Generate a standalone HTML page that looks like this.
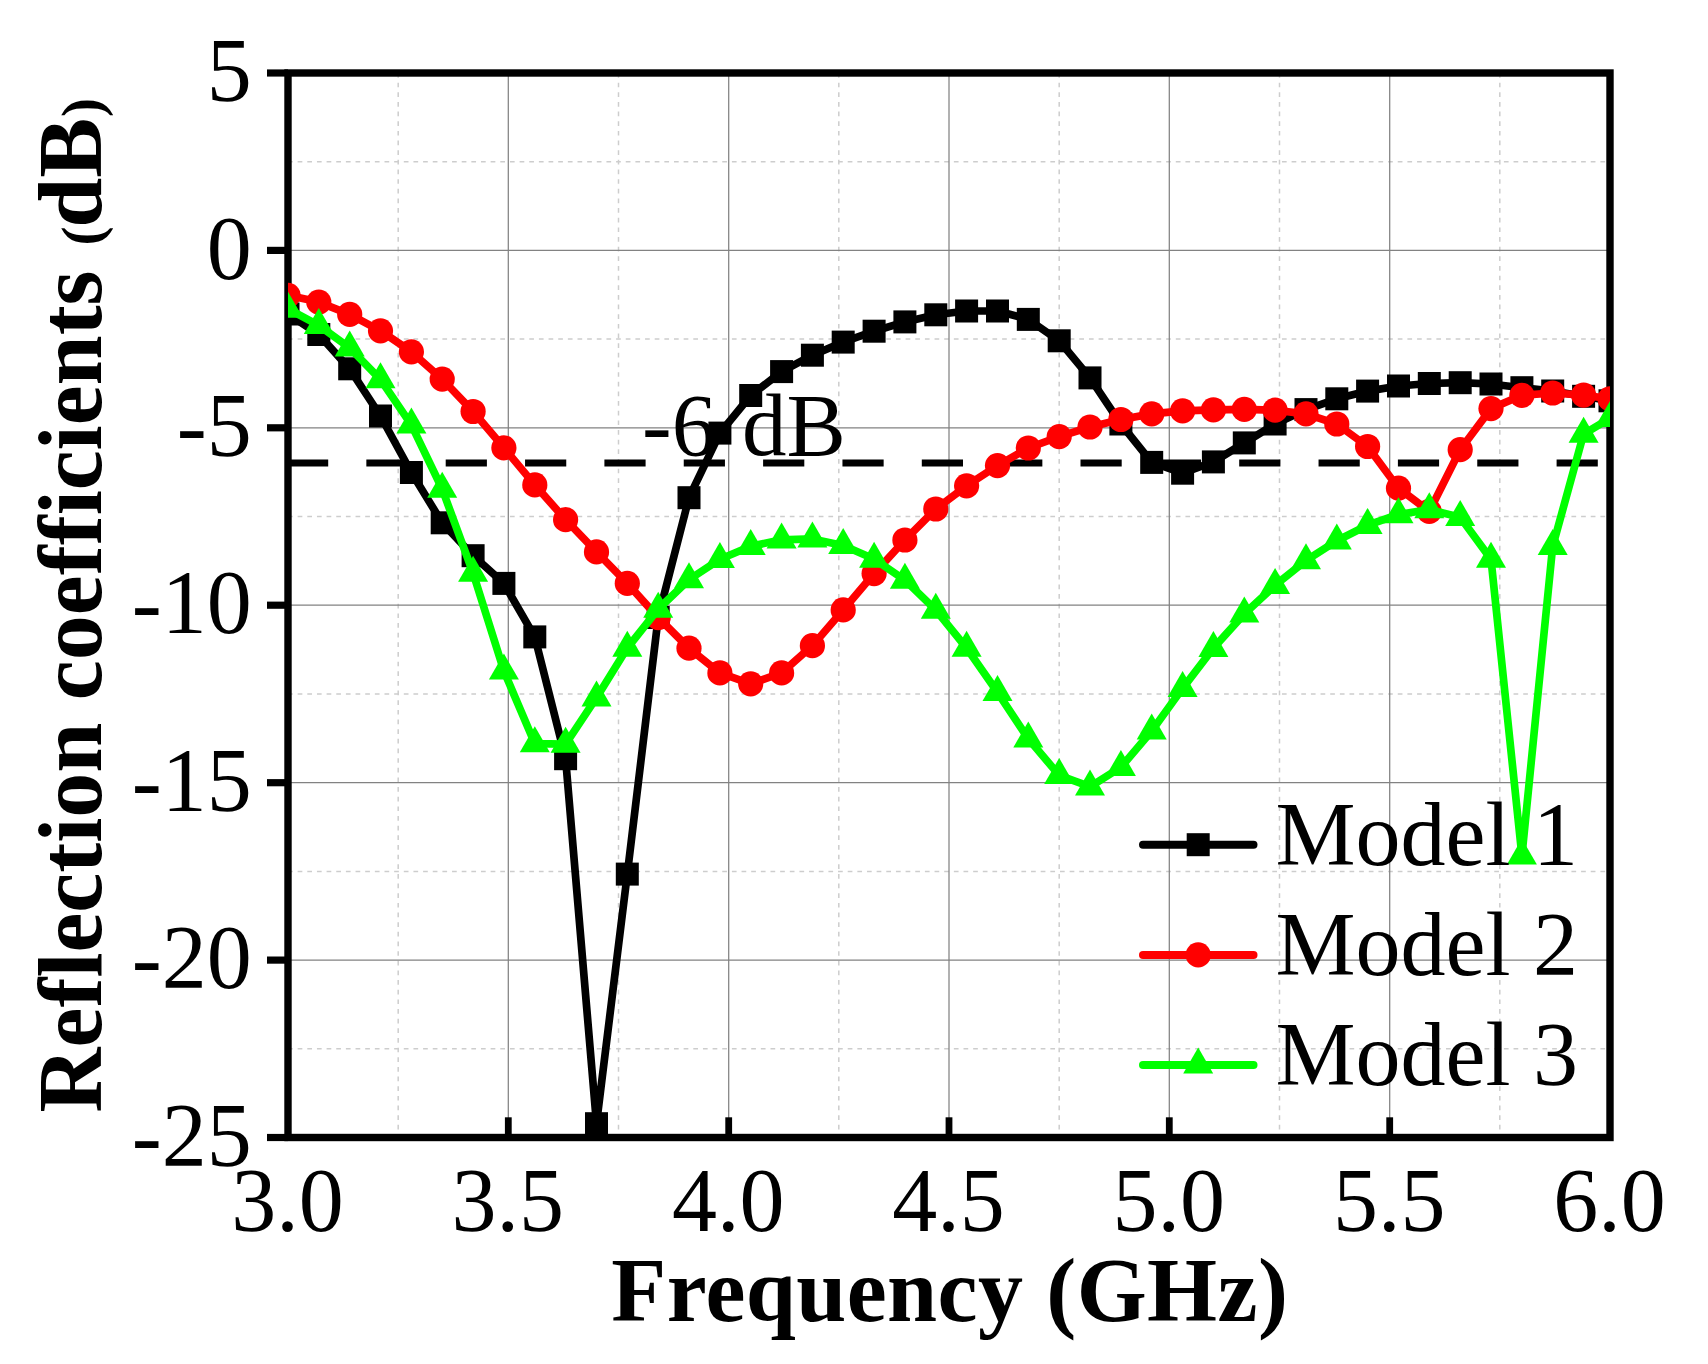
<!DOCTYPE html>
<html lang="en"><head><meta charset="utf-8"><title>Reflection coefficients</title>
<style>
html,body{margin:0;padding:0;background:#fff;}
body{width:1708px;height:1364px;overflow:hidden;}
svg{display:block;}
text{font-family:"Liberation Serif","Noto Serif CJK SC",serif;fill:#000;}
.tk{font-size:90px;}
.lb{font-size:90px;font-weight:bold;}
</style></head><body>
<svg width="1708" height="1364" viewBox="0 0 1708 1364">
<rect width="1708" height="1364" fill="#fff"/>
<defs><clipPath id="cp"><rect x="288" y="73" width="1322" height="1064.5"/></clipPath></defs>

<g stroke="#cdcdcd" stroke-width="1.5" stroke-dasharray="4.7 4.95" fill="none">
<line x1="398.2" y1="73" x2="398.2" y2="1137.5"/>
<line x1="618.5" y1="73" x2="618.5" y2="1137.5"/>
<line x1="838.8" y1="73" x2="838.8" y2="1137.5"/>
<line x1="1059.2" y1="73" x2="1059.2" y2="1137.5"/>
<line x1="1279.5" y1="73" x2="1279.5" y2="1137.5"/>
<line x1="1499.8" y1="73" x2="1499.8" y2="1137.5"/>
<line x1="288" y1="161.7" x2="1610" y2="161.7"/>
<line x1="288" y1="339.1" x2="1610" y2="339.1"/>
<line x1="288" y1="516.5" x2="1610" y2="516.5"/>
<line x1="288" y1="694.0" x2="1610" y2="694.0"/>
<line x1="288" y1="871.4" x2="1610" y2="871.4"/>
<line x1="288" y1="1048.8" x2="1610" y2="1048.8"/>
</g>
<g stroke="#828282" stroke-width="1.25" fill="none">
<line x1="508.3" y1="73" x2="508.3" y2="1137.5"/>
<line x1="728.7" y1="73" x2="728.7" y2="1137.5"/>
<line x1="949.0" y1="73" x2="949.0" y2="1137.5"/>
<line x1="1169.3" y1="73" x2="1169.3" y2="1137.5"/>
<line x1="1389.7" y1="73" x2="1389.7" y2="1137.5"/>
<line x1="288" y1="250.4" x2="1610" y2="250.4"/>
<line x1="288" y1="427.8" x2="1610" y2="427.8"/>
<line x1="288" y1="605.2" x2="1610" y2="605.2"/>
<line x1="288" y1="782.7" x2="1610" y2="782.7"/>
<line x1="288" y1="960.1" x2="1610" y2="960.1"/>
</g>
<line x1="288" y1="463.0" x2="1610" y2="463.0" stroke="#000" stroke-width="6.8" stroke-dasharray="41.2 38.15" stroke-dashoffset="1"/>
<text class="tk" style="font-size:89px" x="642" y="454.5">-6 <tspan dx="3.5">dB</tspan></text>
<g stroke="#000" stroke-width="7.4" fill="none" stroke-linecap="butt">
<rect x="288" y="73" width="1322" height="1064.5"/>
<line x1="267" y1="73.0" x2="288" y2="73.0" stroke-width="7.2"/>
<line x1="267" y1="250.4" x2="288" y2="250.4" stroke-width="7.2"/>
<line x1="267" y1="427.8" x2="288" y2="427.8" stroke-width="7.2"/>
<line x1="267" y1="605.2" x2="288" y2="605.2" stroke-width="7.2"/>
<line x1="267" y1="782.7" x2="288" y2="782.7" stroke-width="7.2"/>
<line x1="267" y1="960.1" x2="288" y2="960.1" stroke-width="7.2"/>
<line x1="267" y1="1137.5" x2="288" y2="1137.5" stroke-width="7.2"/>
<line x1="508.3" y1="1117.3" x2="508.3" y2="1137.5" stroke-width="6.8"/>
<line x1="728.7" y1="1117.3" x2="728.7" y2="1137.5" stroke-width="6.8"/>
<line x1="949.0" y1="1117.3" x2="949.0" y2="1137.5" stroke-width="6.8"/>
<line x1="1169.3" y1="1117.3" x2="1169.3" y2="1137.5" stroke-width="6.8"/>
<line x1="1389.7" y1="1117.3" x2="1389.7" y2="1137.5" stroke-width="6.8"/>
</g>
<g clip-path="url(#cp)">
<polyline fill="none" stroke="#000" stroke-width="7.7" stroke-linejoin="round" points="288.0,314.0 318.8,334.5 349.7,368.8 380.5,416.0 411.4,472.5 442.2,522.8 473.1,555.7 503.9,583.4 534.8,636.9 565.6,758.7 596.5,1123.7 627.3,874.1 658.2,617.5 689.0,497.7 719.9,433.1 750.7,395.5 781.6,371.6 812.4,355.2 843.2,342.1 874.1,331.2 904.9,321.9 935.8,314.8 966.6,311.0 997.5,311.0 1028.3,319.4 1059.2,340.8 1090.0,377.9 1120.9,424.0 1151.7,462.4 1182.6,473.2 1213.4,461.9 1244.3,442.9 1275.1,424.0 1306.0,409.6 1336.8,398.8 1367.6,391.1 1398.5,386.0 1429.3,383.5 1460.2,382.7 1491.0,384.0 1521.9,387.7 1552.7,391.0 1583.6,396.3 1610.0,400.8"/>
<rect x="276.5" y="302.5" width="23" height="23" fill="#000"/>
<rect x="307.3" y="323.0" width="23" height="23" fill="#000"/>
<rect x="338.2" y="357.3" width="23" height="23" fill="#000"/>
<rect x="369.0" y="404.5" width="23" height="23" fill="#000"/>
<rect x="399.9" y="461.0" width="23" height="23" fill="#000"/>
<rect x="430.7" y="511.3" width="23" height="23" fill="#000"/>
<rect x="461.6" y="544.2" width="23" height="23" fill="#000"/>
<rect x="492.4" y="571.9" width="23" height="23" fill="#000"/>
<rect x="523.3" y="625.4" width="23" height="23" fill="#000"/>
<rect x="554.1" y="747.2" width="23" height="23" fill="#000"/>
<rect x="585.0" y="1112.2" width="23" height="23" fill="#000"/>
<rect x="615.8" y="862.6" width="23" height="23" fill="#000"/>
<rect x="646.7" y="606.0" width="23" height="23" fill="#000"/>
<rect x="677.5" y="486.2" width="23" height="23" fill="#000"/>
<rect x="708.4" y="421.6" width="23" height="23" fill="#000"/>
<rect x="739.2" y="384.0" width="23" height="23" fill="#000"/>
<rect x="770.1" y="360.1" width="23" height="23" fill="#000"/>
<rect x="800.9" y="343.7" width="23" height="23" fill="#000"/>
<rect x="831.7" y="330.6" width="23" height="23" fill="#000"/>
<rect x="862.6" y="319.7" width="23" height="23" fill="#000"/>
<rect x="893.4" y="310.4" width="23" height="23" fill="#000"/>
<rect x="924.3" y="303.3" width="23" height="23" fill="#000"/>
<rect x="955.1" y="299.5" width="23" height="23" fill="#000"/>
<rect x="986.0" y="299.5" width="23" height="23" fill="#000"/>
<rect x="1016.8" y="307.9" width="23" height="23" fill="#000"/>
<rect x="1047.7" y="329.3" width="23" height="23" fill="#000"/>
<rect x="1078.5" y="366.4" width="23" height="23" fill="#000"/>
<rect x="1109.4" y="412.5" width="23" height="23" fill="#000"/>
<rect x="1140.2" y="450.9" width="23" height="23" fill="#000"/>
<rect x="1171.1" y="461.7" width="23" height="23" fill="#000"/>
<rect x="1201.9" y="450.4" width="23" height="23" fill="#000"/>
<rect x="1232.8" y="431.4" width="23" height="23" fill="#000"/>
<rect x="1263.6" y="412.5" width="23" height="23" fill="#000"/>
<rect x="1294.5" y="398.1" width="23" height="23" fill="#000"/>
<rect x="1325.3" y="387.3" width="23" height="23" fill="#000"/>
<rect x="1356.1" y="379.6" width="23" height="23" fill="#000"/>
<rect x="1387.0" y="374.5" width="23" height="23" fill="#000"/>
<rect x="1417.8" y="372.0" width="23" height="23" fill="#000"/>
<rect x="1448.7" y="371.2" width="23" height="23" fill="#000"/>
<rect x="1479.5" y="372.5" width="23" height="23" fill="#000"/>
<rect x="1510.4" y="376.2" width="23" height="23" fill="#000"/>
<rect x="1541.2" y="379.5" width="23" height="23" fill="#000"/>
<rect x="1572.1" y="384.8" width="23" height="23" fill="#000"/>
<rect x="1598.5" y="389.3" width="23" height="23" fill="#000"/>
<polyline fill="none" stroke="#f00" stroke-width="7.7" stroke-linejoin="round" points="288.0,295.3 318.8,302.1 349.7,314.4 380.5,330.8 411.4,351.8 442.2,379.1 473.1,411.5 503.9,447.8 534.8,484.9 565.6,519.7 596.5,551.9 627.3,583.4 658.2,617.6 689.0,648.2 719.9,672.9 750.7,683.8 781.6,672.9 812.4,645.7 843.2,609.9 874.1,573.6 904.9,540.0 935.8,509.0 966.6,485.8 997.5,465.6 1028.3,448.0 1059.2,436.6 1090.0,427.0 1120.9,419.5 1151.7,413.9 1182.6,410.9 1213.4,409.9 1244.3,409.4 1275.1,410.2 1306.0,413.9 1336.8,424.0 1367.6,446.5 1398.5,488.2 1429.3,511.4 1460.2,449.7 1491.0,408.6 1521.9,395.3 1552.7,393.0 1583.6,395.1 1610.0,398.8"/>
<circle cx="288.0" cy="295.3" r="12.6" fill="#f00"/>
<circle cx="318.8" cy="302.1" r="12.6" fill="#f00"/>
<circle cx="349.7" cy="314.4" r="12.6" fill="#f00"/>
<circle cx="380.5" cy="330.8" r="12.6" fill="#f00"/>
<circle cx="411.4" cy="351.8" r="12.6" fill="#f00"/>
<circle cx="442.2" cy="379.1" r="12.6" fill="#f00"/>
<circle cx="473.1" cy="411.5" r="12.6" fill="#f00"/>
<circle cx="503.9" cy="447.8" r="12.6" fill="#f00"/>
<circle cx="534.8" cy="484.9" r="12.6" fill="#f00"/>
<circle cx="565.6" cy="519.7" r="12.6" fill="#f00"/>
<circle cx="596.5" cy="551.9" r="12.6" fill="#f00"/>
<circle cx="627.3" cy="583.4" r="12.6" fill="#f00"/>
<circle cx="658.2" cy="617.6" r="12.6" fill="#f00"/>
<circle cx="689.0" cy="648.2" r="12.6" fill="#f00"/>
<circle cx="719.9" cy="672.9" r="12.6" fill="#f00"/>
<circle cx="750.7" cy="683.8" r="12.6" fill="#f00"/>
<circle cx="781.6" cy="672.9" r="12.6" fill="#f00"/>
<circle cx="812.4" cy="645.7" r="12.6" fill="#f00"/>
<circle cx="843.2" cy="609.9" r="12.6" fill="#f00"/>
<circle cx="874.1" cy="573.6" r="12.6" fill="#f00"/>
<circle cx="904.9" cy="540.0" r="12.6" fill="#f00"/>
<circle cx="935.8" cy="509.0" r="12.6" fill="#f00"/>
<circle cx="966.6" cy="485.8" r="12.6" fill="#f00"/>
<circle cx="997.5" cy="465.6" r="12.6" fill="#f00"/>
<circle cx="1028.3" cy="448.0" r="12.6" fill="#f00"/>
<circle cx="1059.2" cy="436.6" r="12.6" fill="#f00"/>
<circle cx="1090.0" cy="427.0" r="12.6" fill="#f00"/>
<circle cx="1120.9" cy="419.5" r="12.6" fill="#f00"/>
<circle cx="1151.7" cy="413.9" r="12.6" fill="#f00"/>
<circle cx="1182.6" cy="410.9" r="12.6" fill="#f00"/>
<circle cx="1213.4" cy="409.9" r="12.6" fill="#f00"/>
<circle cx="1244.3" cy="409.4" r="12.6" fill="#f00"/>
<circle cx="1275.1" cy="410.2" r="12.6" fill="#f00"/>
<circle cx="1306.0" cy="413.9" r="12.6" fill="#f00"/>
<circle cx="1336.8" cy="424.0" r="12.6" fill="#f00"/>
<circle cx="1367.6" cy="446.5" r="12.6" fill="#f00"/>
<circle cx="1398.5" cy="488.2" r="12.6" fill="#f00"/>
<circle cx="1429.3" cy="511.4" r="12.6" fill="#f00"/>
<circle cx="1460.2" cy="449.7" r="12.6" fill="#f00"/>
<circle cx="1491.0" cy="408.6" r="12.6" fill="#f00"/>
<circle cx="1521.9" cy="395.3" r="12.6" fill="#f00"/>
<circle cx="1552.7" cy="393.0" r="12.6" fill="#f00"/>
<circle cx="1583.6" cy="395.1" r="12.6" fill="#f00"/>
<circle cx="1610.0" cy="398.8" r="12.6" fill="#f00"/>
<polyline fill="none" stroke="#0f0" stroke-width="7.7" stroke-linejoin="round" points="288.0,309.0 318.8,325.3 349.7,347.9 380.5,379.5 411.4,424.8 442.2,489.0 473.1,573.1 503.9,670.9 534.8,743.6 565.6,744.1 596.5,697.7 627.3,648.0 658.2,609.1 689.0,579.6 719.9,559.3 750.7,546.2 781.6,539.8 812.4,538.9 843.2,545.4 874.1,559.0 904.9,580.1 935.8,610.1 966.6,648.0 997.5,692.3 1028.3,738.8 1059.2,775.3 1090.0,786.7 1120.9,767.3 1151.7,730.9 1182.6,688.3 1213.4,648.2 1244.3,613.9 1275.1,585.3 1306.0,560.5 1336.8,540.8 1367.6,525.2 1398.5,514.5 1429.3,509.6 1460.2,517.3 1491.0,559.1 1521.9,855.8 1552.7,546.2 1583.6,434.1 1610.0,418.3"/>
<polygon fill="#0f0" points="288.0,291.7 273.0,317.7 303.0,317.7"/>
<polygon fill="#0f0" points="318.8,308.0 303.8,334.0 333.8,334.0"/>
<polygon fill="#0f0" points="349.7,330.6 334.7,356.6 364.7,356.6"/>
<polygon fill="#0f0" points="380.5,362.2 365.5,388.2 395.5,388.2"/>
<polygon fill="#0f0" points="411.4,407.5 396.4,433.5 426.4,433.5"/>
<polygon fill="#0f0" points="442.2,471.7 427.2,497.7 457.2,497.7"/>
<polygon fill="#0f0" points="473.1,555.8 458.1,581.8 488.1,581.8"/>
<polygon fill="#0f0" points="503.9,653.6 488.9,679.6 518.9,679.6"/>
<polygon fill="#0f0" points="534.8,726.3 519.8,752.3 549.8,752.3"/>
<polygon fill="#0f0" points="565.6,726.8 550.6,752.8 580.6,752.8"/>
<polygon fill="#0f0" points="596.5,680.4 581.5,706.4 611.5,706.4"/>
<polygon fill="#0f0" points="627.3,630.7 612.3,656.7 642.3,656.7"/>
<polygon fill="#0f0" points="658.2,591.8 643.2,617.8 673.2,617.8"/>
<polygon fill="#0f0" points="689.0,562.3 674.0,588.3 704.0,588.3"/>
<polygon fill="#0f0" points="719.9,542.0 704.9,568.0 734.9,568.0"/>
<polygon fill="#0f0" points="750.7,528.9 735.7,554.9 765.7,554.9"/>
<polygon fill="#0f0" points="781.6,522.5 766.6,548.5 796.6,548.5"/>
<polygon fill="#0f0" points="812.4,521.6 797.4,547.6 827.4,547.6"/>
<polygon fill="#0f0" points="843.2,528.1 828.2,554.1 858.2,554.1"/>
<polygon fill="#0f0" points="874.1,541.7 859.1,567.7 889.1,567.7"/>
<polygon fill="#0f0" points="904.9,562.8 889.9,588.8 919.9,588.8"/>
<polygon fill="#0f0" points="935.8,592.8 920.8,618.8 950.8,618.8"/>
<polygon fill="#0f0" points="966.6,630.7 951.6,656.7 981.6,656.7"/>
<polygon fill="#0f0" points="997.5,675.0 982.5,701.0 1012.5,701.0"/>
<polygon fill="#0f0" points="1028.3,721.5 1013.3,747.5 1043.3,747.5"/>
<polygon fill="#0f0" points="1059.2,758.0 1044.2,784.0 1074.2,784.0"/>
<polygon fill="#0f0" points="1090.0,769.4 1075.0,795.4 1105.0,795.4"/>
<polygon fill="#0f0" points="1120.9,750.0 1105.9,776.0 1135.9,776.0"/>
<polygon fill="#0f0" points="1151.7,713.6 1136.7,739.6 1166.7,739.6"/>
<polygon fill="#0f0" points="1182.6,671.0 1167.6,697.0 1197.6,697.0"/>
<polygon fill="#0f0" points="1213.4,630.9 1198.4,656.9 1228.4,656.9"/>
<polygon fill="#0f0" points="1244.3,596.6 1229.3,622.6 1259.3,622.6"/>
<polygon fill="#0f0" points="1275.1,568.0 1260.1,594.0 1290.1,594.0"/>
<polygon fill="#0f0" points="1306.0,543.2 1291.0,569.2 1321.0,569.2"/>
<polygon fill="#0f0" points="1336.8,523.5 1321.8,549.5 1351.8,549.5"/>
<polygon fill="#0f0" points="1367.6,507.9 1352.6,533.9 1382.6,533.9"/>
<polygon fill="#0f0" points="1398.5,497.2 1383.5,523.2 1413.5,523.2"/>
<polygon fill="#0f0" points="1429.3,492.3 1414.3,518.3 1444.3,518.3"/>
<polygon fill="#0f0" points="1460.2,500.0 1445.2,526.0 1475.2,526.0"/>
<polygon fill="#0f0" points="1491.0,541.8 1476.0,567.8 1506.0,567.8"/>
<polygon fill="#0f0" points="1521.9,838.5 1506.9,864.5 1536.9,864.5"/>
<polygon fill="#0f0" points="1552.7,528.9 1537.7,554.9 1567.7,554.9"/>
<polygon fill="#0f0" points="1583.6,416.8 1568.6,442.8 1598.6,442.8"/>
<polygon fill="#0f0" points="1610.0,401.0 1595.0,427.0 1625.0,427.0"/>
</g>
<text class="tk" x="251.8" y="101.1" text-anchor="end">5</text>
<text class="tk" x="251.8" y="278.5" text-anchor="end">0</text>
<text class="tk" x="251.8" y="455.9" text-anchor="end">-5</text>
<text class="tk" x="251.8" y="633.4" text-anchor="end">-10</text>
<text class="tk" x="251.8" y="810.8" text-anchor="end">-15</text>
<text class="tk" x="251.8" y="988.2" text-anchor="end">-20</text>
<text class="tk" x="251.8" y="1165.6" text-anchor="end">-25</text>
<text class="tk" x="287.5" y="1230.7" text-anchor="middle">3.0</text>
<text class="tk" x="507.8" y="1230.7" text-anchor="middle">3.5</text>
<text class="tk" x="728.2" y="1230.7" text-anchor="middle">4.0</text>
<text class="tk" x="948.5" y="1230.7" text-anchor="middle">4.5</text>
<text class="tk" x="1168.8" y="1230.7" text-anchor="middle">5.0</text>
<text class="tk" x="1389.2" y="1230.7" text-anchor="middle">5.5</text>
<text class="tk" x="1609.5" y="1230.7" text-anchor="middle">6.0</text>
<text class="lb" x="611.3" y="1320.6" style="letter-spacing:0.42px">Frequency (GHz)</text>
<g transform="translate(101,1111.5) rotate(-90)">
<text class="lb" x="-1" y="0">Reflection coefficients</text>
<text class="lb" x="865.9" y="0" style="font-size:57px">(</text>
<text class="lb" x="883.8" y="0">dB</text>
<text class="lb" x="994.5" y="0" style="font-size:57px">)</text>
</g>
<line x1="1143" y1="844.7" x2="1253.5" y2="844.7" stroke="#000" stroke-width="8" stroke-linecap="round"/>
<rect x="1186.7" y="833.2" width="23" height="23" fill="#000"/>
<text class="tk" x="1275.6" y="865.0">Model 1</text>
<line x1="1143" y1="954.9" x2="1253.5" y2="954.9" stroke="#f00" stroke-width="8" stroke-linecap="round"/>
<circle cx="1198.2" cy="954.9" r="12.6" fill="#f00"/>
<text class="tk" x="1275.6" y="974.8">Model 2</text>
<line x1="1143" y1="1064.9" x2="1253.5" y2="1064.9" stroke="#0f0" stroke-width="8" stroke-linecap="round"/>
<polygon fill="#0f0" points="1198.2,1047.6 1183.2,1073.6 1213.2,1073.6"/>
<text class="tk" x="1275.6" y="1085.1">Model 3</text>
</svg></body></html>
